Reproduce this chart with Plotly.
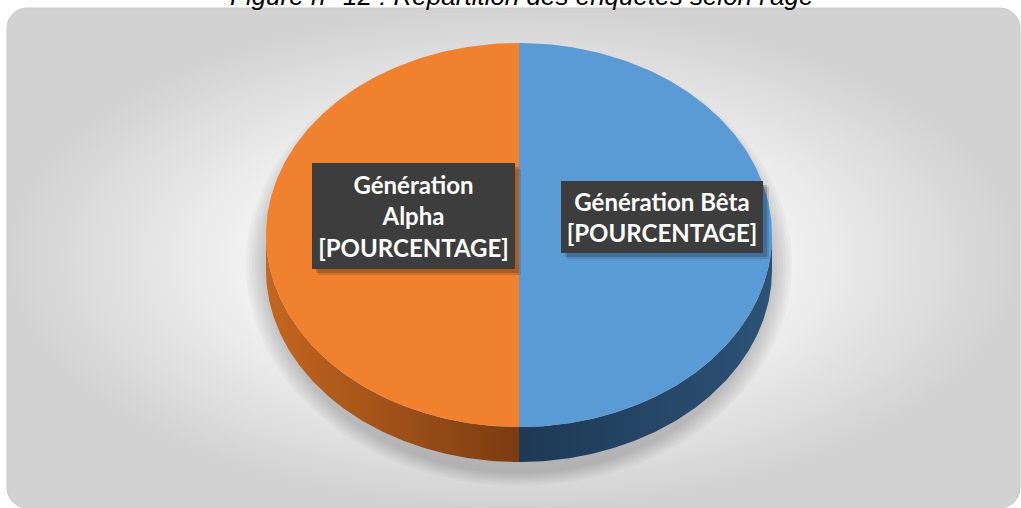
import numpy as np
import plotly.graph_objects as go

# ---------------- data ----------------
categories = ["Génération Bêta", "Génération Alpha"]
values = [50, 50]
label_texts = ["Génération Bêta<br>[POURCENTAGE]",
               "Génération<br>Alpha<br>[POURCENTAGE]"]
title_text = "Figure n° 12 : Répartition des enquêtés selon l'âge"

# ---------------- style / layout ----------------
W, H = 1021, 508
CX, CY, RX, RY, DEPTH = 519, 235, 253, 192, 35
TOP_COLORS = ["#5B9BD5", "#F0812F"]
SIDE_SCALES = [[[0, "#1d3955"], [1, "#2c5277"]],
               [[0, "#c4661f"], [1, "#7a3c11"]]]
LABEL_BOXES = [(662, 217, 202, 72), (413.5, 216, 203, 106)]  # cx, cy, w, h

def ell(theta_deg, dy=0.0, rx=RX, ry=RY, cx=CX, cy=CY):
    t = np.radians(theta_deg)
    return cx + rx * np.sin(t), cy - ry * np.cos(t) + dy

fig = go.Figure()

# background rounded rectangle with gradient
bx0, bx1, by0, by1, r = 7, 1020, 8, 508, 20
pts = []
for (ccx, ccy, a0) in [(bx1 - r, by0 + r, -90), (bx1 - r, by1 - r, 0),
                       (bx0 + r, by1 - r, 90), (bx0 + r, by0 + r, 180)]:
    a = np.radians(np.linspace(a0, a0 + 90, 15))
    pts += list(zip(ccx + r * np.cos(a), ccy + r * np.sin(a)))
pts.append(pts[0])
fig.add_trace(go.Scatter(
    x=[p[0] for p in pts], y=[p[1] for p in pts], mode="lines", fill="toself",
    line=dict(color="#c9c9c9", width=1),
    fillgradient=dict(type="radial",
                      colorscale=[[0, "#fbfbfb"], [0.55, "#f0f0f0"], [1, "#d2d2d2"]]),
    hoverinfo="skip", showlegend=False))

# soft shadow of the pie (mostly below / at the sides)
th = np.linspace(0, 360, 200)
for k in range(7):
    sx, sy = ell(th, rx=RX + 2 + 3 * k, ry=RY + DEPTH / 2 + 2 * k,
                 cy=CY + DEPTH / 2 + 12)
    fig.add_trace(go.Scatter(x=sx, y=sy, mode="lines", fill="toself", line=dict(width=0),
                             fillcolor="rgba(0,0,0,0.028)", hoverinfo="skip", showlegend=False))

# slices angles (clockwise from 12 o'clock)
total = float(sum(values))
cum = np.concatenate([[0], np.cumsum(values)]) / total * 360.0

# side walls
for i in range(len(values)):
    a, b = cum[i], cum[i + 1]
    lo, hi = max(a, 90), min(b, 270)
    if hi > lo:
        t = np.linspace(lo, hi, 150)
        tx, ty = ell(t)
        bx, byy = ell(t[::-1], dy=DEPTH)
        fig.add_trace(go.Scatter(
            x=np.concatenate([tx, bx, tx[:1]]), y=np.concatenate([ty, byy, ty[:1]]),
            mode="lines", fill="toself", line=dict(width=0),
            fillgradient=dict(type="horizontal", colorscale=SIDE_SCALES[i]),
            hoverinfo="skip", showlegend=False))

# top faces
for i in range(len(values)):
    a, b = cum[i], cum[i + 1]
    t = np.linspace(a, b, 200)
    tx, ty = ell(t)
    fig.add_trace(go.Scatter(
        x=np.concatenate([[CX], tx, [CX]]), y=np.concatenate([[CY], ty, [CY]]),
        mode="lines", fill="toself", line=dict(width=0), fillcolor=TOP_COLORS[i],
        name=categories[i], hoverinfo="name", showlegend=False))

# label boxes
shapes = []
annotations = []
for i, (lx, ly, bw, bh) in enumerate(LABEL_BOXES):
    for off, op in [(6, 0.12), (4, 0.18)]:
        shapes.append(dict(type="rect", xref="x", yref="y", layer="above",
                           x0=lx - bw / 2 + off, x1=lx + bw / 2 + off,
                           y0=ly - bh / 2 + off, y1=ly + bh / 2 + off,
                           fillcolor=f"rgba(0,0,0,{op})", line=dict(width=0)))
    annotations.append(dict(
        x=lx, y=ly, xref="x", yref="y", text=label_texts[i], showarrow=False,
        xanchor="center", yanchor="middle", width=bw, height=bh,
        bgcolor="#3d3d3d", borderpad=0, borderwidth=0,
        font=dict(family="Lato", size=24, color="white", weight="bold"), align="center"))

annotations.append(dict(
    x=521, y=0, xref="x", yref="y", text=title_text, showarrow=False,
    xanchor="center", yanchor="top", yshift=21,
    font=dict(family="Liberation Sans, Arial", size=26, color="#000000", style="italic")))

fig.update_layout(
    width=W, height=H, margin=dict(l=0, r=0, t=0, b=0),
    paper_bgcolor="white", plot_bgcolor="white",
    xaxis=dict(range=[0, W], visible=False, fixedrange=True),
    yaxis=dict(range=[H, 0], visible=False, fixedrange=True),
    shapes=shapes, annotations=annotations, showlegend=False)

fig.write_html("out.html", config={"displayModeBar": False},
               post_script="document.body.style.margin='0';")
